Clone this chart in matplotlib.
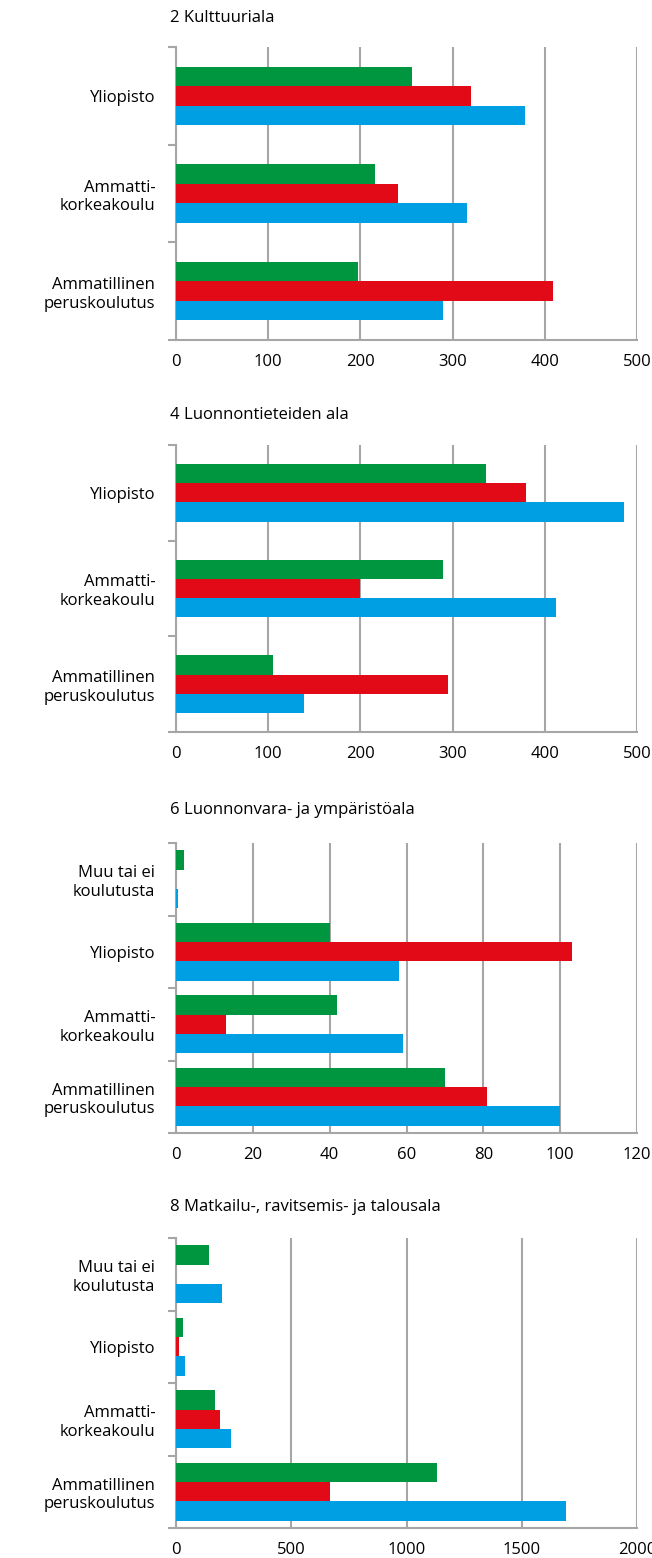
import numpy as np
import matplotlib
matplotlib.use("Agg")
import matplotlib.pyplot as plt

plt.rcParams['font.family'] = ['Open Sans', 'DejaVu Sans']

# colours of the three series (top to bottom inside a group)
GREEN = '#00963f'
RED = '#e20a17'
BLUE = '#009fe3'
GRAY = '#a6a6a6'

## Data, categories listed from bottom to top
cats3 = ['Ammatillinen\nperuskoulutus', 'Ammatti-\nkorkeakoulu', 'Yliopisto']
cats4 = ['Ammatillinen\nperuskoulutus', 'Ammatti-\nkorkeakoulu', 'Yliopisto', 'Muu tai ei\nkoulutusta']

titles = ['2 Kulttuuriala', '4 Luonnontieteiden ala',
          '6 Luonnonvara- ja ympäristöala', '8 Matkailu-, ravitsemis- ja talousala']

kult_green = [197, 216, 256]
kult_red = [409, 241, 320]
kult_blue = [290, 316, 379]

luon_green = [105, 290, 336]
luon_red = [295, 200, 380]
luon_blue = [139, 412, 486]

ymp_green = [70, 42, 40, 2]
ymp_red = [81, 13, 103, 0]
ymp_blue = [100, 59, 58, 0.5]

matk_green = [1134, 170, 31, 144]
matk_red = [670, 191, 13, 0]
matk_blue = [1693, 240, 40, 200]

xmax = [500, 500, 120, 2000]
xstep = [100, 100, 20, 500]

panels = [
    (cats3, kult_green, kult_red, kult_blue),
    (cats3, luon_green, luon_red, luon_blue),
    (cats4, ymp_green, ymp_red, ymp_blue),
    (cats4, matk_green, matk_red, matk_blue),
]

W, H = 652, 1558
fig = plt.figure(figsize=(W / 100, H / 100), dpi=100)

# pixel boxes of the axes (top, bottom) and title y
boxes = [(47, 340, 18), (445, 732, 415), (843, 1133, 810), (1238, 1528, 1207)]
left_px, right_px = 176, 637
FS = 12

for i, (cats, g, r, b) in enumerate(panels):
    top, bot, ty = boxes[i]
    ax = fig.add_axes([left_px / W, 1 - bot / H, (right_px - left_px) / W, (bot - top) / H])
    y = np.arange(len(cats))
    # bars keep about the same pixel height in every panel
    h = 0.2 if len(cats) == 3 else 0.267
    ax.barh(y + h, g, height=h, color=GREEN, zorder=3)
    ax.barh(y, r, height=h, color=RED, zorder=3)
    ax.barh(y - h, b, height=h, color=BLUE, zorder=3)

    ax.set_xlim(0, xmax[i])
    ax.set_ylim(-0.5, len(cats) - 0.5)
    ax.set_xticks(np.arange(0, xmax[i] + 1, xstep[i]))
    ax.set_yticks(y)
    ax.set_yticklabels(cats, ha='right', fontsize=FS, linespacing=1.2)
    ax.set_yticks(np.arange(-0.5, len(cats), 1.0), minor=True)

    ax.tick_params(axis='y', which='major', length=0, pad=15)
    ax.tick_params(axis='y', which='minor', length=6, width=1.5, color=GRAY)
    ax.tick_params(axis='x', length=0, pad=10, labelsize=FS)

    ax.grid(axis='x', color=GRAY, linewidth=1.5, zorder=0)
    ax.set_axisbelow(True)
    for s in ['top', 'right']:
        ax.spines[s].set_visible(False)
    for s in ['left', 'bottom']:
        ax.spines[s].set_color(GRAY)
        ax.spines[s].set_linewidth(1.5)

    fig.text(170 / W, 1 - ty / H, titles[i], fontsize=FS, va='center', ha='left')

fig.savefig('out.png', dpi=100)
